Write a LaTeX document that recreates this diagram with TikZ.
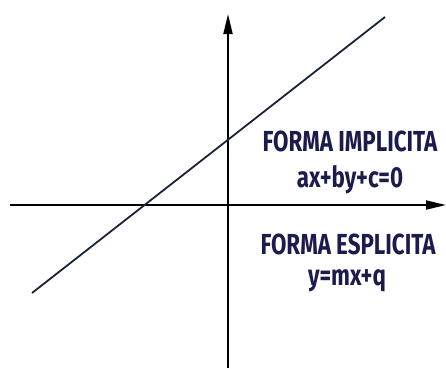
\documentclass[tikz,border=0pt]{standalone}
\usepackage{fontspec}
\setmainfont{Fira Sans}
\usetikzlibrary{arrows.meta}
\definecolor{navy}{HTML}{1B1B4D}
\definecolor{linecol}{HTML}{1A2238}
\tikzset{
  axis/.style={line width=1.8pt, draw=black, -{Triangle[length=20pt,width=9pt]}},
  retta/.style={line width=1.8pt, draw=linecol},
  lbl/.style={text=navy, font=\fontsize{29}{32}\selectfont\bfseries, inner sep=0pt, anchor=center}
}
\begin{document}
\begin{tikzpicture}[x=1pt,y=-1pt]
\useasboundingbox (0,0) rectangle (446,368);
\coordinate (xs) at (10,205);
\coordinate (xe) at (446,205);
\coordinate (ys) at (228,368);
\coordinate (ye) at (228,14);
\coordinate (ls) at (32,293);
\coordinate (le) at (385,17);
\draw[axis] (xs) -- (xe);
\draw[axis] (ys) -- (ye);
\draw[retta] (ls) -- (le);
\node[lbl] (t1) at (350,141) {\scalebox{0.77}[1]{FORMA IMPLICITA}};
\node[lbl] (t2) at (350,180) {\scalebox{0.77}[1]{ax+by+c=0}};
\node[lbl] (t3) at (348,244) {\scalebox{0.77}[1]{FORMA ESPLICITA}};
\node[lbl] (t4) at (347,281) {\scalebox{0.77}[1]{y=mx+q}};
\end{tikzpicture}
\end{document}
